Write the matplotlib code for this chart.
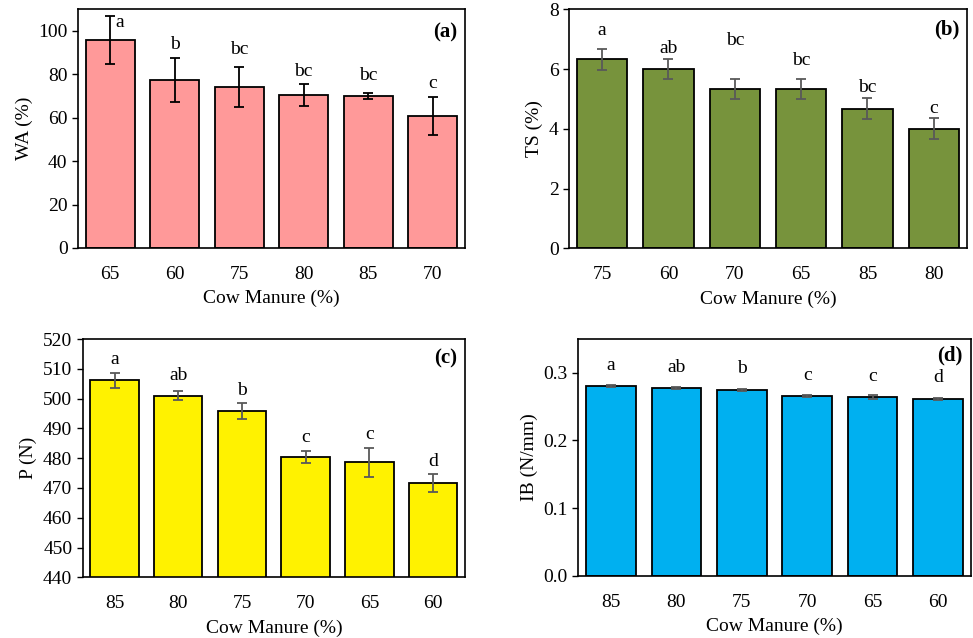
import matplotlib
matplotlib.use('Agg')
import matplotlib.pyplot as plt
from matplotlib.ticker import FormatStrFormatter

plt.rcParams['font.family'] = ['Liberation Serif', 'DejaVu Serif']
plt.rcParams['font.size'] = 14

# (a) water absorption
wa_labels = ['65', '60', '75', '80', '85', '70']
wa_vals = [95.8, 77.4, 74.2, 70.4, 69.9, 60.8]
wa_err = [11.0, 10.0, 9.2, 5.0, 1.5, 8.6]
wa_letters = ['a', 'b', 'bc', 'bc', 'bc', 'c']
wa_letter_y = [103.7, 93.5, 91.2, 81.2, 79.2, 75.6]

# (b) thickness swelling
ts_labels = ['75', '60', '70', '65', '85', '80']
ts_vals = [6.33, 6.0, 5.33, 5.33, 4.67, 4.0]
ts_err = [0.35, 0.33, 0.34, 0.34, 0.35, 0.35]
ts_letters = ['a', 'ab', 'bc', 'bc', 'bc', 'c']
ts_letter_y = [7.3, 6.69, 6.97, 6.27, 5.38, 4.68]

# (c) P
p_labels = ['85', '80', '75', '70', '65', '60']
p_vals = [506.2, 500.9, 495.9, 480.4, 478.6, 471.7]
p_err = [2.5, 1.5, 2.6, 1.9, 4.9, 3.1]
p_letters = ['a', 'ab', 'b', 'c', 'c', 'd']
p_letter_y = [513.0, 507.9, 502.6, 487.0, 487.8, 478.8]

# (d) internal bond
ib_labels = ['85', '80', '75', '70', '65', '60']
ib_vals = [0.280, 0.277, 0.274, 0.2655, 0.2646, 0.2606]
ib_err = [0.0015, 0.0015, 0.0015, 0.001, 0.003, 0.0015]
ib_letters = ['a', 'ab', 'b', 'c', 'c', 'd']
ib_letter_y = [0.311, 0.308, 0.306, 0.296, 0.295, 0.293]

fig = plt.figure(figsize=(9.73, 6.38), dpi=100)

panels = [
    ([0.0802, 0.6113, 0.3977, 0.3746], wa_labels, wa_vals, wa_err, wa_letters, wa_letter_y,
     '#FF9999', 'black', 'WA (%)', (0, 110), [0, 20, 40, 60, 80, 100], '(a)', 0.90, None),
    ([0.5848, 0.6108, 0.4090, 0.3746], ts_labels, ts_vals, ts_err, ts_letters, ts_letter_y,
     '#77933C', '#595959', 'TS (%)', (0, 8), [0, 2, 4, 6, 8], '(b)', 0.915, None),
    ([0.0850, 0.0951, 0.3929, 0.3735], p_labels, p_vals, p_err, p_letters, p_letter_y,
     '#FFF200', '#595959', 'P (N)', (440, 520), list(range(440, 521, 10)), '(c)', 0.92, None),
    ([0.5943, 0.0977, 0.4033, 0.3710], ib_labels, ib_vals, ib_err, ib_letters, ib_letter_y,
     '#00B0F0', '#595959', 'IB (N/mm)', (0, 0.35), [0, 0.1, 0.2, 0.3], '(d)', 0.93, '%.1f'),
]

for rect, labels, vals, err, letters, ly, color, ecol, ylabel, ylim, yticks, tag, tag_y, fmt in panels:
    ax = fig.add_axes(rect)
    x = range(len(labels))
    ax.bar(x, vals, width=0.76, color=color, edgecolor='black', linewidth=1.3,
           yerr=err, error_kw=dict(ecolor=ecol, elinewidth=1.3, capsize=3.3, capthick=1.3))
    for i, (t, yy) in enumerate(zip(letters, ly)):
        dx = 0.14 if (tag == '(a)' and i == 0) else 0
        ax.text(i + dx, yy, t, ha='center', va='center', fontsize=14)
    ax.set_xlim(-0.5, len(labels) - 0.5)
    ax.set_ylim(*ylim)
    ax.set_yticks(yticks)
    if fmt:
        ax.yaxis.set_major_formatter(FormatStrFormatter(fmt))
    ax.set_xticks(list(x))
    ax.set_xticklabels(labels)
    ax.tick_params(axis='x', length=0, pad=13)
    ax.tick_params(axis='y', direction='out', length=4, width=1)
    ax.set_xlabel('Cow Manure (%)', labelpad=5)
    ax.set_ylabel(ylabel)
    for s in ax.spines.values():
        s.set_linewidth(1.2)
    ax.text(0.98, tag_y, tag, transform=ax.transAxes, ha='right', va='center',
            fontsize=15, fontweight='bold')

fig.savefig('out.png', dpi=100)
plt.close()
